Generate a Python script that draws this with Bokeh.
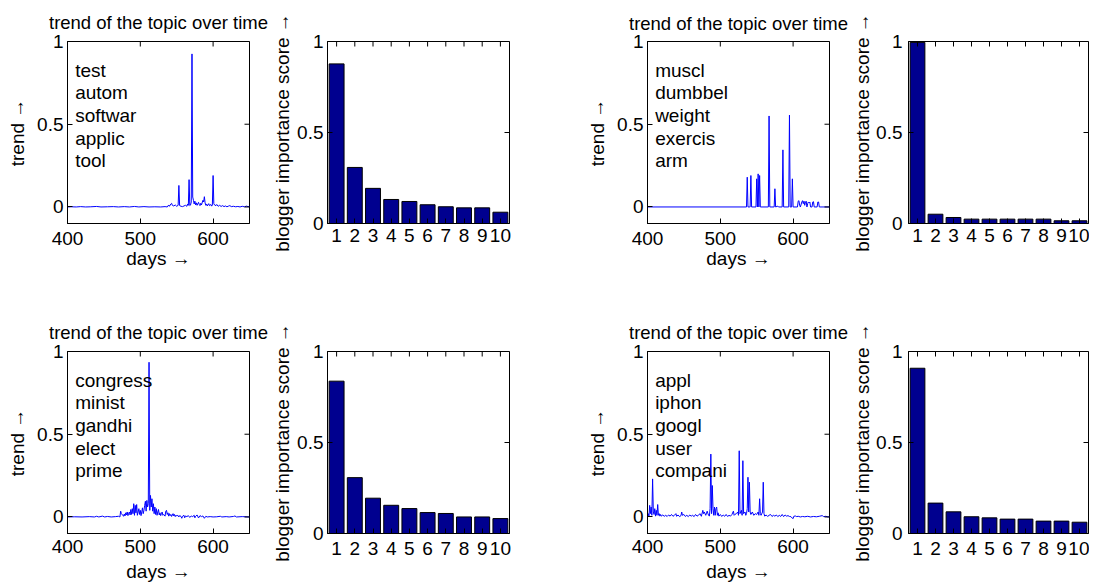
import math
from bokeh.plotting import figure
from bokeh.layouts import row, column
from bokeh.models import FixedTicker, GlobalInlineStyleSheet
from bokeh.core.properties import value
from bokeh.embed import file_html
from bokeh.resources import INLINE

# ---------------- data ----------------
ranks = [1, 2, 3, 4, 5, 6, 7, 8, 9, 10]
x_ticks_days = [400, 500, 600]
y_ticks = [0, 0.5, 1]
y_tick_labels = {0: "0", 0.5: "0.5", 1: "1"}

title_text = "trend of the topic over time"
x_label = "days \u2192"
y_label_trend = "trend \u2192"
y_label_bar = "blogger importance score \u2192"

# topic 1 (top left)
words_1 = ["test", "autom", "softwar", "applic", "tool"]
days_1 = [400, 405, 412, 418, 425, 432, 440, 446, 455, 463, 470, 478, 485, 492, 498,
          505, 512, 520, 528, 534, 537, 539, 540, 542, 543, 544, 546, 548, 550, 552,
          553, 554, 556, 558, 560, 562, 564, 565, 566, 567, 568, 569, 570, 571, 572,
          573, 574, 575, 576, 577, 578, 580, 581, 582, 583, 584, 586, 587, 588, 589,
          590, 591, 592, 594, 595, 597, 598, 599, 600, 601, 602, 604, 605, 607, 609,
          611, 613, 615, 617, 619, 621, 623, 625, 628, 631, 634, 637, 640, 643, 646,
          648, 650]
trend_1 = [0.000, 0.001, 0.000, 0.002, 0.000, 0.001, 0.003, 0.000, 0.001, 0.002, 0.000,
           0.002, 0.000, 0.003, 0.000, 0.002, 0.000, 0.001, 0.000, 0.002, 0.000, 0.012,
           0.004, 0.018, 0.022, 0.010, 0.006, 0.012, 0.004, 0.010, 0.130, 0.008, 0.004,
           0.002, 0.006, 0.010, 0.004, 0.018, 0.010, 0.165, 0.008, 0.012, 0.030, 0.925,
           0.060, 0.040, 0.018, 0.035, 0.012, 0.025, 0.010, 0.028, 0.015, 0.008, 0.022,
           0.012, 0.040, 0.030, 0.062, 0.025, 0.010, 0.018, 0.006, 0.020, 0.008, 0.015,
           0.005, 0.012, 0.190, 0.020, 0.012, 0.008, 0.015, 0.004, 0.010, 0.003, 0.008,
           0.002, 0.006, 0.001, 0.005, 0.008, 0.002, 0.004, 0.001, 0.003, 0.000, 0.004,
           0.001, 0.005, 0.002, 0.003]
score_1 = [0.877, 0.308, 0.193, 0.132, 0.121, 0.103, 0.092, 0.086, 0.086, 0.062]

# topic 2 (top right)
words_2 = ["muscl", "dumbbel", "weight", "exercis", "arm"]
days_2 = [400, 536, 537, 538, 540, 541, 542, 543, 549, 550, 551, 552, 553, 554, 555,
          566, 567, 568, 574, 575, 576, 579, 580, 585, 586, 587, 594, 595, 596, 598,
          599, 600, 606, 607, 608, 609, 610, 612, 613, 614, 615, 616, 617, 618, 619,
          620, 621, 622, 623, 624, 626, 627, 628, 629, 633, 634, 635, 636, 650]
trend_2 = [0.0, 0.0, 0.18, 0.0, 0.0, 0.0, 0.19, 0.0, 0.0, 0.17, 0.0, 0.20, 0.0, 0.19, 0.0,
           0.0, 0.55, 0.0, 0.0, 0.11, 0.0, 0.005, 0.0, 0.0, 0.345, 0.0, 0.0, 0.555, 0.0,
           0.0, 0.17, 0.0, 0.0, 0.035, 0.038, 0.010, 0.0, 0.030, 0.038, 0.020, 0.035,
           0.010, 0.030, 0.035, 0.0, 0.020, 0.030, 0.025, 0.030, 0.0, 0.0, 0.030, 0.032,
           0.0, 0.0, 0.030, 0.030, 0.0, 0.0]
score_2 = [0.995, 0.051, 0.033, 0.024, 0.024, 0.024, 0.024, 0.024, 0.015, 0.015]

# topic 3 (bottom left)
words_3 = ["congress", "minist", "gandhi", "elect", "prime"]
days_3 = [400, 410, 420, 430, 437, 440, 443, 448, 451, 455, 460, 466, 470, 472, 473,
          474, 476, 477, 478, 479, 480, 481, 482, 483, 484, 485, 486, 487, 488, 489,
          490, 491, 492, 493, 494, 495, 496, 497, 498, 499, 500, 501, 502, 503, 504,
          505, 506, 507, 508, 509, 510, 511, 512, 513, 514, 515, 516, 517, 518, 519,
          520, 521, 522, 523, 524, 525, 526, 527, 528, 529, 530, 531, 532, 534, 535,
          536, 537, 538, 539, 540, 541, 542, 543, 544, 545, 546, 547, 548, 549, 550,
          551, 553, 554, 556, 557, 558, 560, 561, 562, 564, 566, 568, 570, 572, 574,
          575, 576, 578, 580, 582, 584, 586, 588, 590, 592, 596, 600, 605, 610, 612,
          618, 622, 628, 630, 632, 640, 650]
trend_3 = [0.000, 0.001, 0.000, 0.002, 0.000, 0.004, 0.000, 0.005, 0.000, 0.003, 0.000,
           0.002, 0.004, 0.000, 0.035, 0.020, 0.010, 0.004, 0.018, 0.006, 0.025, 0.012,
           0.030, 0.008, 0.022, 0.030, 0.012, 0.045, 0.015, 0.050, 0.020, 0.080, 0.010,
           0.070, 0.025, 0.075, 0.010, 0.030, 0.050, 0.015, 0.040, 0.008, 0.030, 0.055,
           0.020, 0.040, 0.070, 0.095, 0.035, 0.100, 0.060, 0.080, 0.935, 0.040, 0.130,
           0.060, 0.110, 0.035, 0.080, 0.020, 0.060, 0.015, 0.050, 0.010, 0.030, 0.045,
           0.012, 0.025, 0.008, 0.020, 0.030, 0.010, 0.015, 0.005, 0.035, 0.040, 0.015,
           0.025, 0.005, 0.020, 0.008, 0.015, 0.003, 0.012, 0.020, 0.006, 0.015, 0.002,
           0.010, 0.005, 0.012, 0.000, 0.008, 0.003, -0.008, 0.004, 0.010, -0.005, 0.006,
           0.002, 0.008, -0.003, 0.006, 0.002, 0.010, -0.005, 0.004, 0.012, -0.006, 0.008,
           0.002, 0.006, -0.008, 0.004, 0.000, 0.002, 0.000, 0.001, 0.004, 0.000, 0.002,
           0.000, 0.003, 0.006, 0.000, 0.002, 0.000]
score_3 = [0.837, 0.307, 0.194, 0.155, 0.137, 0.115, 0.110, 0.091, 0.091, 0.082]

# topic 4 (bottom right)
words_4 = ["appl", "iphon", "googl", "user", "compani"]
days_4 = [400, 401, 402, 403, 404, 405, 406, 407, 408, 409, 410, 411, 412, 413, 414,
          415, 416, 417, 418, 419, 421, 423, 425, 427, 429, 431, 433, 435, 437, 439,
          440, 442, 444, 446, 447, 448, 450, 452, 454, 456, 458, 460, 462, 464, 466,
          468, 470, 472, 474, 476, 477, 478, 480, 482, 483, 484, 485, 486, 487, 488,
          489, 490, 491, 492, 493, 494, 495, 496, 497, 498, 500, 502, 504, 506, 508,
          510, 512, 514, 516, 518, 519, 520, 522, 524, 525, 526, 527, 529, 530, 531,
          532, 534, 535, 536, 537, 538, 539, 540, 541, 542, 544, 546, 548, 550, 552,
          553, 554, 555, 556, 558, 559, 560, 561, 563, 565, 567, 569, 571, 573, 575,
          577, 579, 581, 583, 585, 587, 589, 591, 593, 595, 597, 599, 600, 601, 603,
          605, 607, 610, 613, 616, 620, 624, 628, 632, 636, 640, 642, 645, 648, 650]
trend_4 = [0.005, 0.020, 0.002, 0.070, 0.020, 0.060, 0.010, 0.230, 0.030, 0.015, 0.050,
           0.005, 0.040, 0.010, 0.075, 0.010, 0.020, 0.005, 0.015, 0.005, 0.012, 0.004,
           0.010, 0.003, 0.012, 0.005, 0.015, 0.004, 0.010, 0.020, 0.004, 0.012, 0.002,
           0.008, 0.030, 0.010, 0.015, 0.003, 0.010, 0.002, 0.012, 0.005, 0.010, 0.002,
           0.015, 0.005, 0.010, 0.020, 0.004, 0.040, 0.020, 0.030, 0.010, 0.035, 0.020,
           0.010, 0.005, 0.050, 0.380, 0.020, 0.190, 0.050, 0.010, 0.060, 0.010, 0.050,
           0.060, 0.010, 0.025, 0.005, 0.015, 0.003, 0.012, 0.004, 0.015, 0.003, 0.010,
           0.005, 0.015, 0.035, 0.010, 0.015, 0.020, 0.030, 0.010, 0.400, 0.020, 0.040,
           0.010, 0.340, 0.020, 0.030, 0.010, 0.020, 0.050, 0.240, 0.030, 0.210, 0.030,
           0.015, 0.030, 0.010, 0.020, 0.015, 0.030, 0.010, 0.110, 0.020, 0.010, 0.030,
           0.210, 0.020, 0.005, 0.012, 0.003, 0.010, 0.015, 0.003, 0.010, 0.005, 0.012,
           0.002, 0.010, 0.003, 0.015, 0.002, 0.012, 0.005, 0.008, 0.003, 0.002, -0.008,
           -0.010, 0.004, 0.006, 0.002, 0.004, 0.000, 0.003, 0.001, 0.004, 0.000, 0.003,
           0.001, 0.004, 0.008, 0.002, 0.004, 0.000, 0.002]
score_4 = [0.908, 0.167, 0.119, 0.092, 0.086, 0.079, 0.079, 0.068, 0.068, 0.062]

# ---------------- styling helpers ----------------
FONT = "'Liberation Sans', 'DejaVu Sans', sans-serif"
FS = "19px"
TITLE_FS = "18.5px"
LINE_COLOR = "#0000ff"
BAR_COLOR = "#00008f"
TICK_LEN = 5


def style_axis(ax, ticks, overrides=None, standoff=4, label_standoff=5):
    ax.ticker = FixedTicker(ticks=ticks)
    ax.major_tick_in = TICK_LEN
    ax.major_tick_out = 0
    ax.minor_tick_in = 0
    ax.minor_tick_out = 0
    ax.axis_line_color = "black"
    ax.major_tick_line_color = "black"
    ax.major_label_text_font = FONT
    ax.major_label_text_color = "black"
    ax.major_label_text_font_size = FS
    ax.major_label_standoff = standoff
    if overrides:
        ax.major_label_overrides = overrides
    ax.axis_label_text_font = FONT
    ax.axis_label_text_font_size = FS
    ax.axis_label_text_font_style = "normal"
    ax.axis_label_text_color = "black"
    ax.axis_label_standoff = label_standoff


def box_ticks(p, xticks, yticks):
    # inward tick marks on the top and right edges of the box (clipped to frame)
    x_top = [p.y_range.end] * len(xticks)
    p.scatter(x=xticks, y=x_top, marker="dash", angle=math.pi / 2,
              size=2 * TICK_LEN, line_color="black", line_width=1)
    y_right = [p.x_range.end] * len(yticks)
    p.scatter(x=y_right, y=yticks, marker="dash", angle=0,
              size=2 * TICK_LEN, line_color="black", line_width=1)


def base_fig(frame, borders, xr, yr):
    fw, fh = frame
    bl, br, bt, bb = borders
    p = figure(frame_width=fw, frame_height=fh, x_range=xr, y_range=yr,
               output_backend="svg", toolbar_location=None,
               min_border_left=bl, min_border_right=br,
               min_border_top=bt, min_border_bottom=bb)
    p.xgrid.visible = False
    p.ygrid.visible = False
    p.outline_line_color = "black"
    p.outline_line_width = 1
    p.background_fill_color = "white"
    p.border_fill_color = "white"
    return p


def trend_panel(days, trend, words, frame, borders, title_standoff,
                xstand, xlab_stand):
    p = base_fig(frame, borders, (400, 650), (-0.1, 1))
    p.title.text = title_text
    p.title.align = "center"
    p.title.text_font = FONT
    p.title.text_font_size = TITLE_FS
    p.title.text_font_style = "normal"
    p.title.text_color = "black"
    p.title.standoff = title_standoff
    p.line(days, trend, line_color=LINE_COLOR, line_width=1)
    p.text(x=[410.5], y=[0.89], text=["\n".join(words)],
           text_font=value(FONT), text_font_size=FS, text_color="black",
           text_baseline="top", text_align="left", text_line_height=1.08)
    style_axis(p.xaxis[0], x_ticks_days, standoff=xstand, label_standoff=xlab_stand)
    p.xaxis[0].axis_label = x_label
    style_axis(p.yaxis[0], y_ticks, overrides=y_tick_labels, standoff=4,
               label_standoff=6)
    p.yaxis[0].axis_label = y_label_trend
    box_ticks(p, x_ticks_days, y_ticks)
    return p


def score_panel(scores, frame, borders, ystand, ylab_stand, xstand):
    p = base_fig(frame, borders, (0.5, 10.5), (0, 1))
    p.vbar(x=ranks, top=scores, width=0.82, fill_color=BAR_COLOR,
           line_color="black", line_width=1)
    style_axis(p.xaxis[0], ranks, standoff=xstand)
    style_axis(p.yaxis[0], y_ticks, overrides=y_tick_labels, standoff=ystand,
               label_standoff=ylab_stand)
    p.yaxis[0].axis_label = y_label_bar
    box_ticks(p, ranks, y_ticks)
    return p


# row 1: frames share the top edge (y = 41)
pA = trend_panel(days_1, trend_1, words_1, (182, 182), (67, 20, 41, 70), 18, 8, 0)
pB = score_panel(score_1, (182, 182), (51, 13, 41, 70), 4, 1, 5)
pC = trend_panel(days_2, trend_2, words_2, (182, 182), (125, 20, 41, 70), 16, 8, 0)
pD = score_panel(score_2, (180, 182), (52, 1, 41, 70), 6, 0, 5)

# row 2: frames share the top edge (y = 351)
pE = trend_panel(days_3, trend_3, words_3, (182, 182), (67, 20, 58, 56), 17, 6, 5)
pF = score_panel(score_3, (182, 182), (51, 13, 58, 56), 4, 1, 8)
pG = trend_panel(days_4, trend_4, words_4, (182, 182), (125, 20, 58, 56), 18, 6, 5)
pH = score_panel(score_4, (180, 182), (52, 1, 58, 56), 6, 0, 8)

page_css = GlobalInlineStyleSheet(css=(
    "html, body { margin: 0 !important; padding: 0 !important; "
    "height: auto !important; overflow: hidden !important; }"))

layout = column(row(pA, pB, pC, pD), row(pE, pF, pG, pH),
                stylesheets=[page_css])

with open("out.html", "w") as f:
    f.write(file_html(layout, INLINE))
